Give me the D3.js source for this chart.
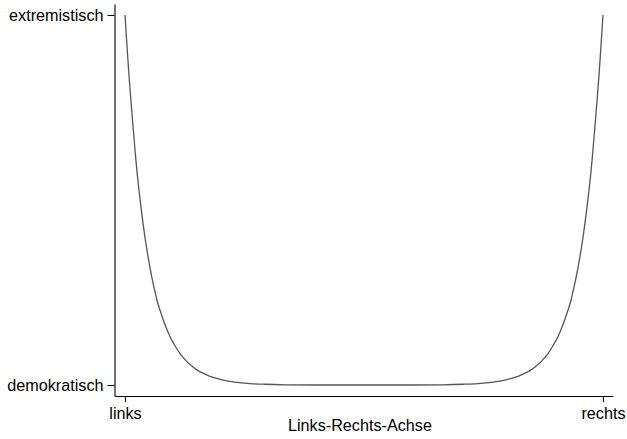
<!DOCTYPE html>
<html>
<head>
<meta charset="utf-8">
<script src="https://cdn.jsdelivr.net/npm/d3@7"></script>
<style>
  html, body { margin: 0; padding: 0; background: #fff; }
  svg { display: block; }
  text { font-family: "Liberation Sans", Arial, Helvetica, sans-serif; }
</style>
</head>
<body>
<div id="chart"></div>
<script>
// Position on the left-right axis (0 = links, 100 = rechts)
const position = [0, 0.42, 0.84, 1.26, 1.67, 2.09, 2.51, 2.93, 3.35, 3.77, 4.39, 5.02, 5.65, 6.28, 6.69, 7.53, 8.37, 9.41,
                  10.46, 11.51, 12.76, 14.02, 15.27, 16.95, 18.62, 20.5, 23.0, 26.15, 29.3, 33.5, 40.8, 50,
                  59.2, 66.5, 70.7, 73.85, 77.0, 79.5, 81.38, 83.05, 84.73, 85.98, 87.24, 88.49, 89.54, 90.59,
                  91.63, 92.47, 93.31, 93.72, 94.35, 94.98, 95.61, 96.23, 96.65, 97.07, 97.49, 97.91, 98.33, 98.74, 99.16, 99.58, 100];
// Degree of extremism (0 = demokratisch, 100 = extremistisch)
const extremism = [100, 91.5, 83.5, 76.5, 70, 63.5, 57.6, 52.5, 48, 43.7, 38.1, 33.2, 28.9, 25.2, 22.9, 19.4, 16.3, 13.1,
                   10.6, 8.5, 6.6, 5.1, 3.9, 2.8, 1.97, 1.35, 0.8, 0.4, 0.2, 0.06, 0, 0,
                   0, 0.06, 0.2, 0.4, 0.8, 1.35, 1.97, 2.8, 3.9, 5.1, 6.6, 8.5, 10.6, 13.1,
                   16.3, 19.4, 22.9, 25.2, 28.9, 33.2, 38.1, 43.7, 48, 52.5, 57.6, 63.5, 70, 76.5, 83.5, 91.5, 100];
const xTickValues = [0, 100];
const xTickLabels = ["links", "rechts"];
const yTickValues = [0, 100];
const yTickLabels = ["demokratisch", "extremistisch"];
const xTitle = "Links-Rechts-Achse";

const W = 627, H = 439;
const svg = d3.select("#chart").append("svg").attr("width", W).attr("height", H);

const x = d3.scaleLinear().domain([-2.2, 102.1]).range([114.5, 613]);
const y = d3.scaleLinear().domain([-2.97, 102.97]).range([396, 4]);

const fs = "16.2px";

const xAxis = d3.axisBottom(x).tickValues(xTickValues)
  .tickFormat((d, i) => xTickLabels[i]).tickSizeInner(6).tickSizeOuter(0).tickPadding(5);
const gx = svg.append("g").attr("transform", `translate(0,${y.range()[0]})`).call(xAxis);

const yAxis = d3.axisLeft(y).tickValues(yTickValues)
  .tickFormat((d, i) => yTickLabels[i]).tickSizeInner(7).tickSizeOuter(0).tickPadding(4);
const gy = svg.append("g").attr("transform", `translate(${x.range()[0]},0)`).call(yAxis);

[gx, gy].forEach(g => {
  g.select(".domain").attr("stroke", "#000").attr("stroke-width", 1.1);
  g.selectAll(".tick line").attr("stroke", "#000").attr("stroke-width", 1.1);
  g.selectAll(".tick text").attr("fill", "#000").style("font-size", fs)
    .style("font-family", '"Liberation Sans", Arial, Helvetica, sans-serif');
});

svg.append("text")
  .attr("x", (x(0) + x(100)) / 2 - 4)
  .attr("y", 431)
  .attr("text-anchor", "middle")
  .style("font-size", fs)
  .attr("fill", "#000")
  .text(xTitle);

const data = position.map((p, i) => ({ p, e: extremism[i] }));

svg.append("path")
  .datum(data)
  .attr("fill", "none")
  .attr("stroke", "#555")
  .attr("stroke-width", 1.3)
  .attr("d", d3.line().x(d => x(d.p)).y(d => y(d.e)).curve(d3.curveMonotoneX));
</script>
</body>
</html>
